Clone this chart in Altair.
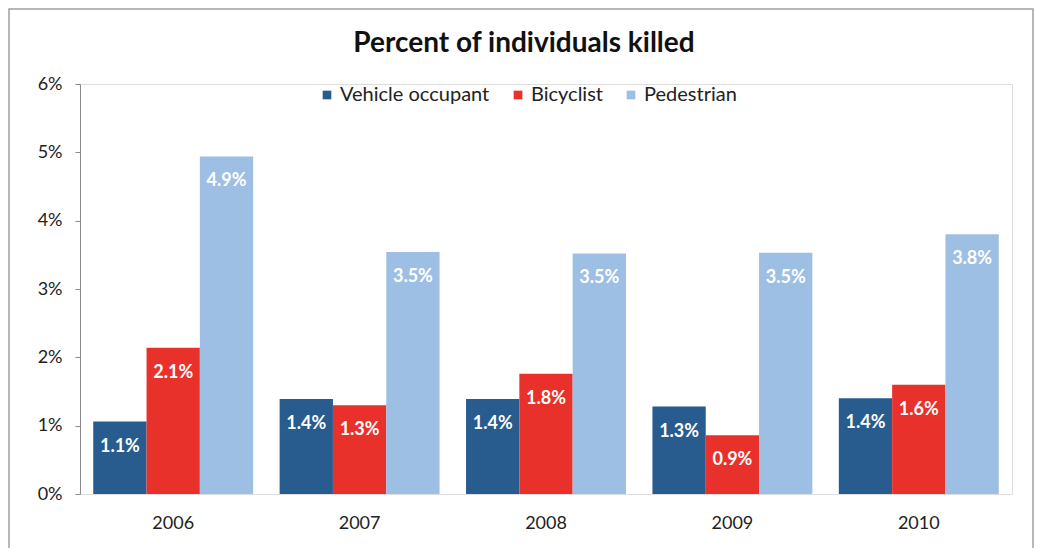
import altair as alt
import pandas as pd

years = ["2006", "2007", "2008", "2009", "2010"]
types = ["Vehicle occupant", "Bicyclist", "Pedestrian"]
vehicle = [1.06, 1.39, 1.39, 1.28, 1.40]
bicyclist = [2.14, 1.30, 1.76, 0.86, 1.60]
pedestrian = [4.94, 3.54, 3.52, 3.53, 3.80]
colors = ["#285B8E", "#E8312A", "#9DBFE3"]
y_ticks = [0, 1, 2, 3, 4, 5, 6]

rows = []
for series, vals in zip(types, [vehicle, bicyclist, pedestrian]):
    for yr, v in zip(years, vals):
        rows.append({"year": yr, "type": series, "value": v})
df = pd.DataFrame(rows)

FONT = "Lato"
W, H = 932, 410

base = alt.Chart(df).encode(
    x=alt.X("year:N", sort=years, title=None,
            scale=alt.Scale(paddingInner=0.142, paddingOuter=0.071),
            axis=alt.Axis(labelAngle=0, domain=False, ticks=False, labelPadding=20,
                          labelFontSize=18, labelColor="#222222", labelFont=FONT)),
    xOffset=alt.XOffset("type:N", sort=types,
                        scale=alt.Scale(paddingInner=0, paddingOuter=0)),
    y=alt.Y("value:Q", title=None,
            scale=alt.Scale(domain=[0, 6], nice=False),
            axis=alt.Axis(values=y_ticks, grid=False, labelExpr="datum.value + '%'",
                          domainColor="#8a8a8a", tickColor="#8a8a8a", tickSize=5,
                          labelPadding=13, labelFontSize=18, labelColor="#222222",
                          labelFont=FONT)),
)

bars = base.mark_bar().encode(
    color=alt.Color("type:N", sort=types, title=None,
                    scale=alt.Scale(domain=types, range=colors),
                    legend=alt.Legend(orient="none", direction="horizontal",
                                      legendX=237, legendY=1, symbolType="square",
                                      symbolSize=75, symbolOpacity=1, labelFontSize=20,
                                      labelFont=FONT, labelColor="#222222",
                                      columnPadding=18, labelOffset=3))
)

labels = base.mark_text(color="white", fontWeight="bold", fontSize=18, font=FONT,
                        baseline="middle", dy=25).encode(
    text=alt.Text("label:N")
).transform_calculate(label="format(datum.value, '.1f') + '%'")

frame = alt.Chart(pd.DataFrame({"a": [0]})).mark_rect(
    filled=False, stroke="#a0a0a0", strokeWidth=1.5
).encode(x=alt.value(-71), x2=alt.value(953), y=alt.value(-75), y2=alt.value(480))

chart = alt.layer(frame, bars, labels).properties(
    width=W, height=H,
    title=alt.TitleParams("Percent of individuals killed", fontSize=28, font=FONT,
                          fontWeight="bold", color="#111111", anchor="middle",
                          offset=10, dy=60, dx=-22),
    autosize=alt.AutoSizeParams(type="none"),
    padding={"left": 72, "top": 76, "right": 23, "bottom": 54},
).configure_view(stroke=None).configure(background="white")

chart.save("out.html", embed_options={"renderer": "svg", "actions": False})
